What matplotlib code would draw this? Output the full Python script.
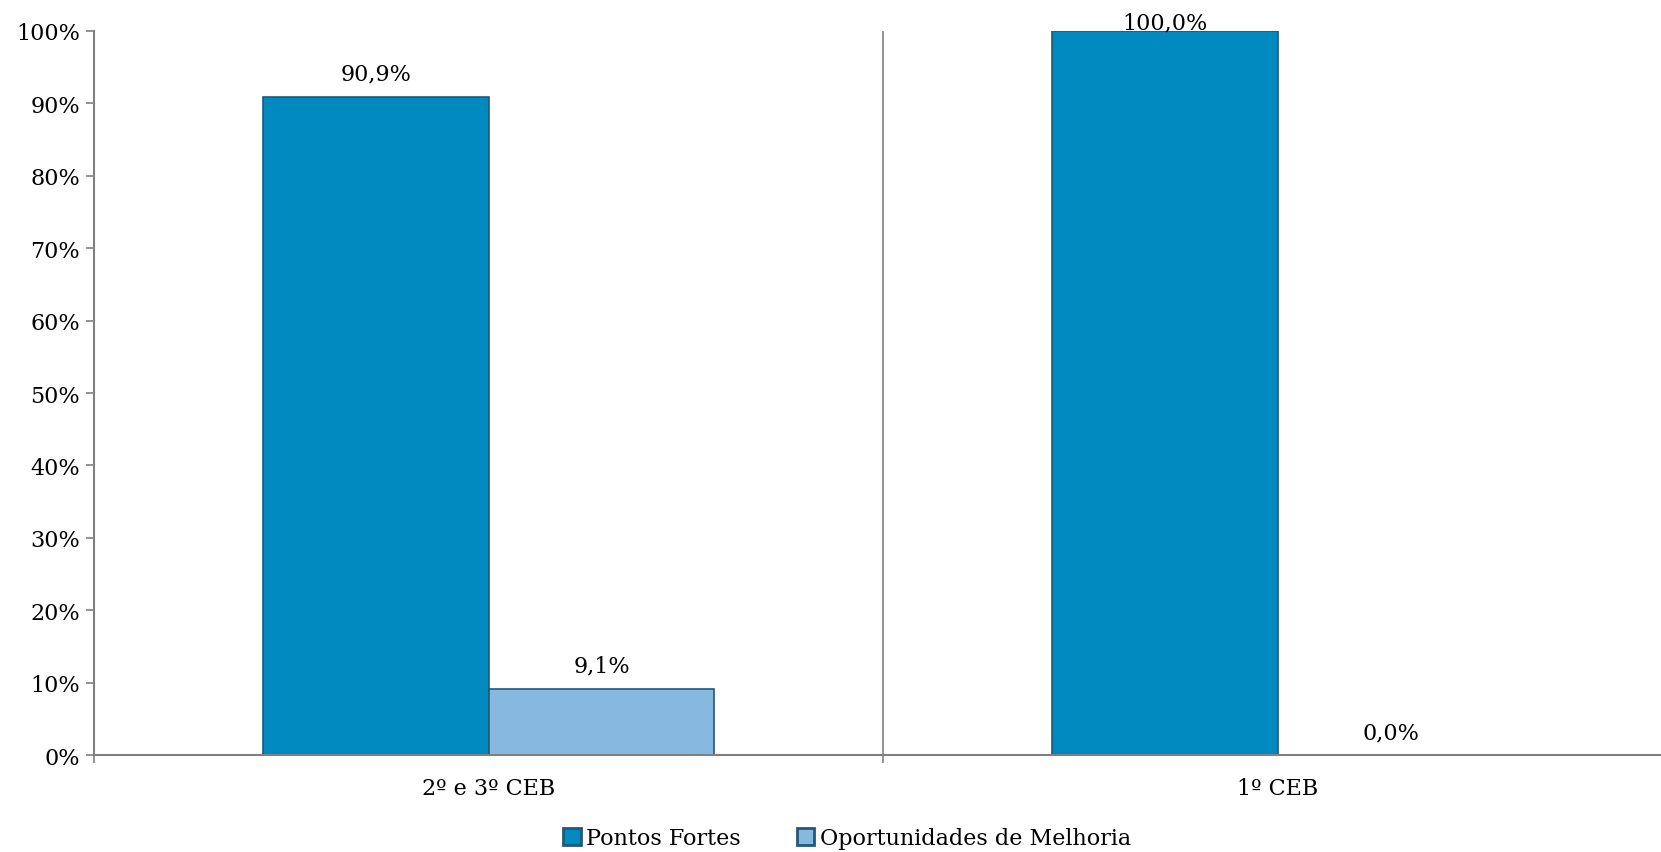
import numpy as np
import matplotlib.pyplot as plt
from matplotlib.ticker import FixedLocator, PercentFormatter

categories = ['2º e 3º CEB', '1º CEB']
pontos_fortes = [90.9, 100.0]
oportunidades = [9.1, 0.0]
series_names = ['Pontos Fortes', 'Oportunidades de Melhoria']

plt.rcParams['font.family'] = ['DejaVu Serif']
plt.rcParams['font.size'] = 16

fig = plt.figure(figsize=(16.61, 8.53), dpi=100)
ax = fig.add_axes([0.0566, 0.1137, 0.9503, 0.8488])

x = np.arange(len(categories))
w = 0.286
edge = '#1f5a7a'
b1 = ax.bar(x - w / 2, pontos_fortes, w, color='#008ac0', edgecolor=edge,
            linewidth=1.2, label=series_names[0])
b2 = ax.bar(x + w / 2, oportunidades, w, color='#86b8e0', edgecolor=edge,
            linewidth=1.2, label=series_names[1])

def fmt(v):
    return f'{v:.1f}%'.replace('.', ',')

for rect, v in zip(b1, pontos_fortes):
    off = 9 if v < 100 else -2
    ax.annotate(fmt(v), (rect.get_x() + rect.get_width() / 2, v),
                xytext=(0, off), textcoords='offset points',
                ha='center', va='bottom')
for rect, v in zip(b2, oportunidades):
    off = 9 if v > 0 else 8
    ax.annotate(fmt(v), (rect.get_x() + rect.get_width() / 2, v),
                xytext=(0, off), textcoords='offset points',
                ha='center', va='bottom')

ax.set_xlim(-0.5, 1.5)
ax.set_ylim(0, 100)
ax.set_yticks(np.arange(0, 101, 10))
ax.yaxis.set_major_formatter(PercentFormatter(decimals=0))

ax.set_xticks(x)
ax.set_xticklabels(categories)
ax.tick_params(axis='x', which='major', length=0, pad=16)
ax.xaxis.set_minor_locator(FixedLocator([-0.5, 0.5, 1.5]))
ax.tick_params(axis='x', which='minor', length=6, color='#808080', width=1.2)
ax.tick_params(axis='y', length=6, color='#808080', width=1.2, pad=4)
ax.axvline(0.5, color='#808080', linewidth=1.2, zorder=0)

for s in ['top', 'right']:
    ax.spines[s].set_visible(False)
for s in ['left', 'bottom']:
    ax.spines[s].set_color('#808080')
    ax.spines[s].set_linewidth(1.5)

leg = fig.legend(loc='lower center', bbox_to_anchor=(0.51, -0.02), ncol=2,
                 frameon=False, handlelength=0.8, handleheight=0.8,
                 handletextpad=0.25, columnspacing=2.5)
for h in leg.legend_handles:
    h.set_linewidth(2)

fig.savefig('out.png', dpi=100)
